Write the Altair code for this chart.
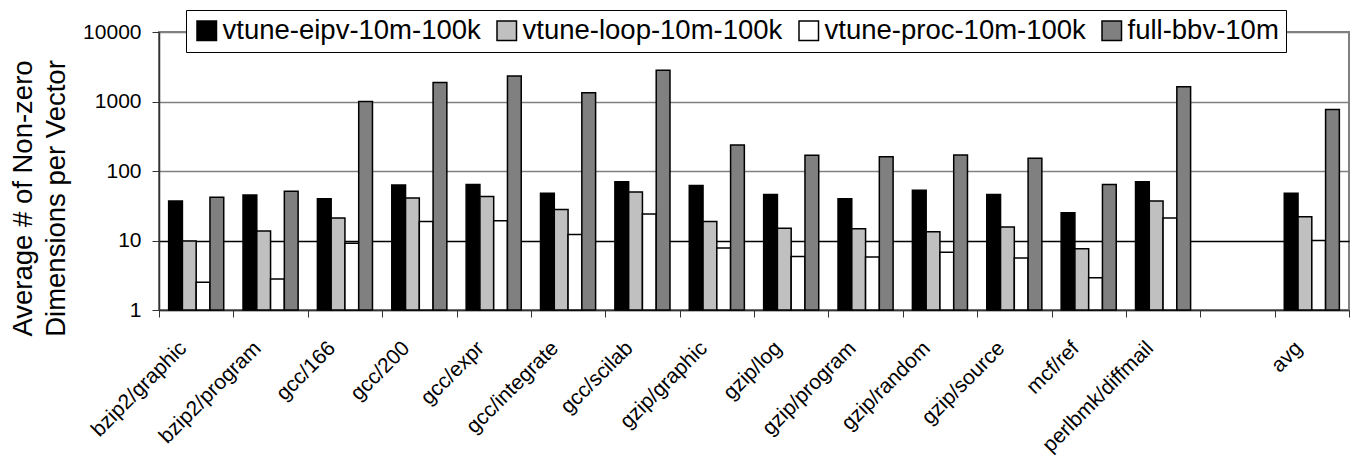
import altair as alt
import pandas as pd

benchmarks = ["bzip2/graphic", "bzip2/program", "gcc/166", "gcc/200", "gcc/expr",
              "gcc/integrate", "gcc/scilab", "gzip/graphic", "gzip/log", "gzip/program",
              "gzip/random", "gzip/source", "mcf/ref", "perlbmk/diffmail", "avg"]
series = ["vtune-eipv-10m-100k", "vtune-loop-10m-100k", "vtune-proc-10m-100k", "full-bbv-10m"]
eipv = [37, 45, 40, 63, 64, 48, 70, 62, 46, 40, 53, 46, 25, 70, 48]
loop = [9.8, 13.7, 21, 41, 43, 28, 50, 18.7, 15, 14.8, 13.4, 15.6, 7.6, 37, 22]
proc = [2.5, 2.8, 9.1, 18.7, 19.3, 12.2, 24, 7.8, 5.9, 5.8, 6.8, 5.6, 2.9, 21, 10]
full = [42, 51, 1000, 1875, 2335, 1333, 2817, 237, 168, 161, 170, 153, 64, 1625, 770]
colors = ["#000000", "#c0c0c0", "#ffffff", "#808080"]
y_ticks = [1, 10, 100, 1000, 10000]

# x domain: the benchmarks, an empty slot, then avg
x_domain = benchmarks[:-1] + [" "] + benchmarks[-1:]

rows = []
for s, vals in zip(series, [eipv, loop, proc, full]):
    for b, v in zip(benchmarks, vals):
        rows.append({"bench": b, "series": s, "value": v})
df = pd.DataFrame(rows)

FONT = "Liberation Sans"

bars = alt.Chart(df).mark_bar(stroke="black", strokeWidth=1.5).encode(
    x=alt.X("bench:N", sort=x_domain,
            scale=alt.Scale(domain=x_domain, paddingInner=0, paddingOuter=0),
            axis=alt.Axis(title=None, labelAngle=-45, labelFontSize=21, labelFont=FONT,
                          labelColor="black", tickBand="extent", tickSize=7,
                          tickColor="#333333", domainColor="#333333", domainWidth=1.5,
                          labelPadding=20, labelOffset=-21, grid=False)),
    xOffset=alt.XOffset("series:N", sort=series,
                        scale=alt.Scale(domain=series, paddingOuter=0.7, paddingInner=0)),
    y=alt.Y("value:Q",
            scale=alt.Scale(type="log", domain=[1, 10000]),
            axis=alt.Axis(values=y_ticks, format="d", labelFontSize=21, labelFont=FONT,
                          labelColor="black", tickSize=7, tickColor="#333333",
                          domainColor="#333333", domainWidth=1.5, labelPadding=11,
                          grid=True,
                          gridColor=alt.condition("datum.value == 10", alt.value("black"), alt.value("#808080")),
                          gridWidth=1.3,
                          title=["Average # of Non-zero", "Dimensions per Vector"],
                          titleFontSize=27.5, titleFont=FONT, titleFontWeight="normal",
                          titleColor="black", titleLineHeight=33, titlePadding=12,
                          titleY=166)),
    y2=alt.datum(1),
    fill=alt.Color("series:N", sort=series,
                   scale=alt.Scale(domain=series, range=colors),
                   legend=alt.Legend(title=None, orient="none", legendX=27, legendY=-22,
                                     direction="horizontal", columns=4, gridAlign="none",
                                     symbolType="square", symbolSize=380,
                                     symbolStrokeColor="black", symbolStrokeWidth=1.5,
                                     labelFontSize=27.5, labelFont=FONT, labelColor="black",
                                     labelOffset=2, columnPadding=12, padding=7,
                                     strokeColor="black", fillColor="white",
                                     labelLimit=400)),
)

chart = bars.properties(
    width=1190, height=278,
    autosize=alt.AutoSizeParams(type="none"),
    padding={"left": 151, "top": 24, "right": 2, "bottom": 152},
).configure_view(stroke="#808080", strokeWidth=2)

chart.save("out.html", embed_options={"renderer": "svg", "actions": False})
